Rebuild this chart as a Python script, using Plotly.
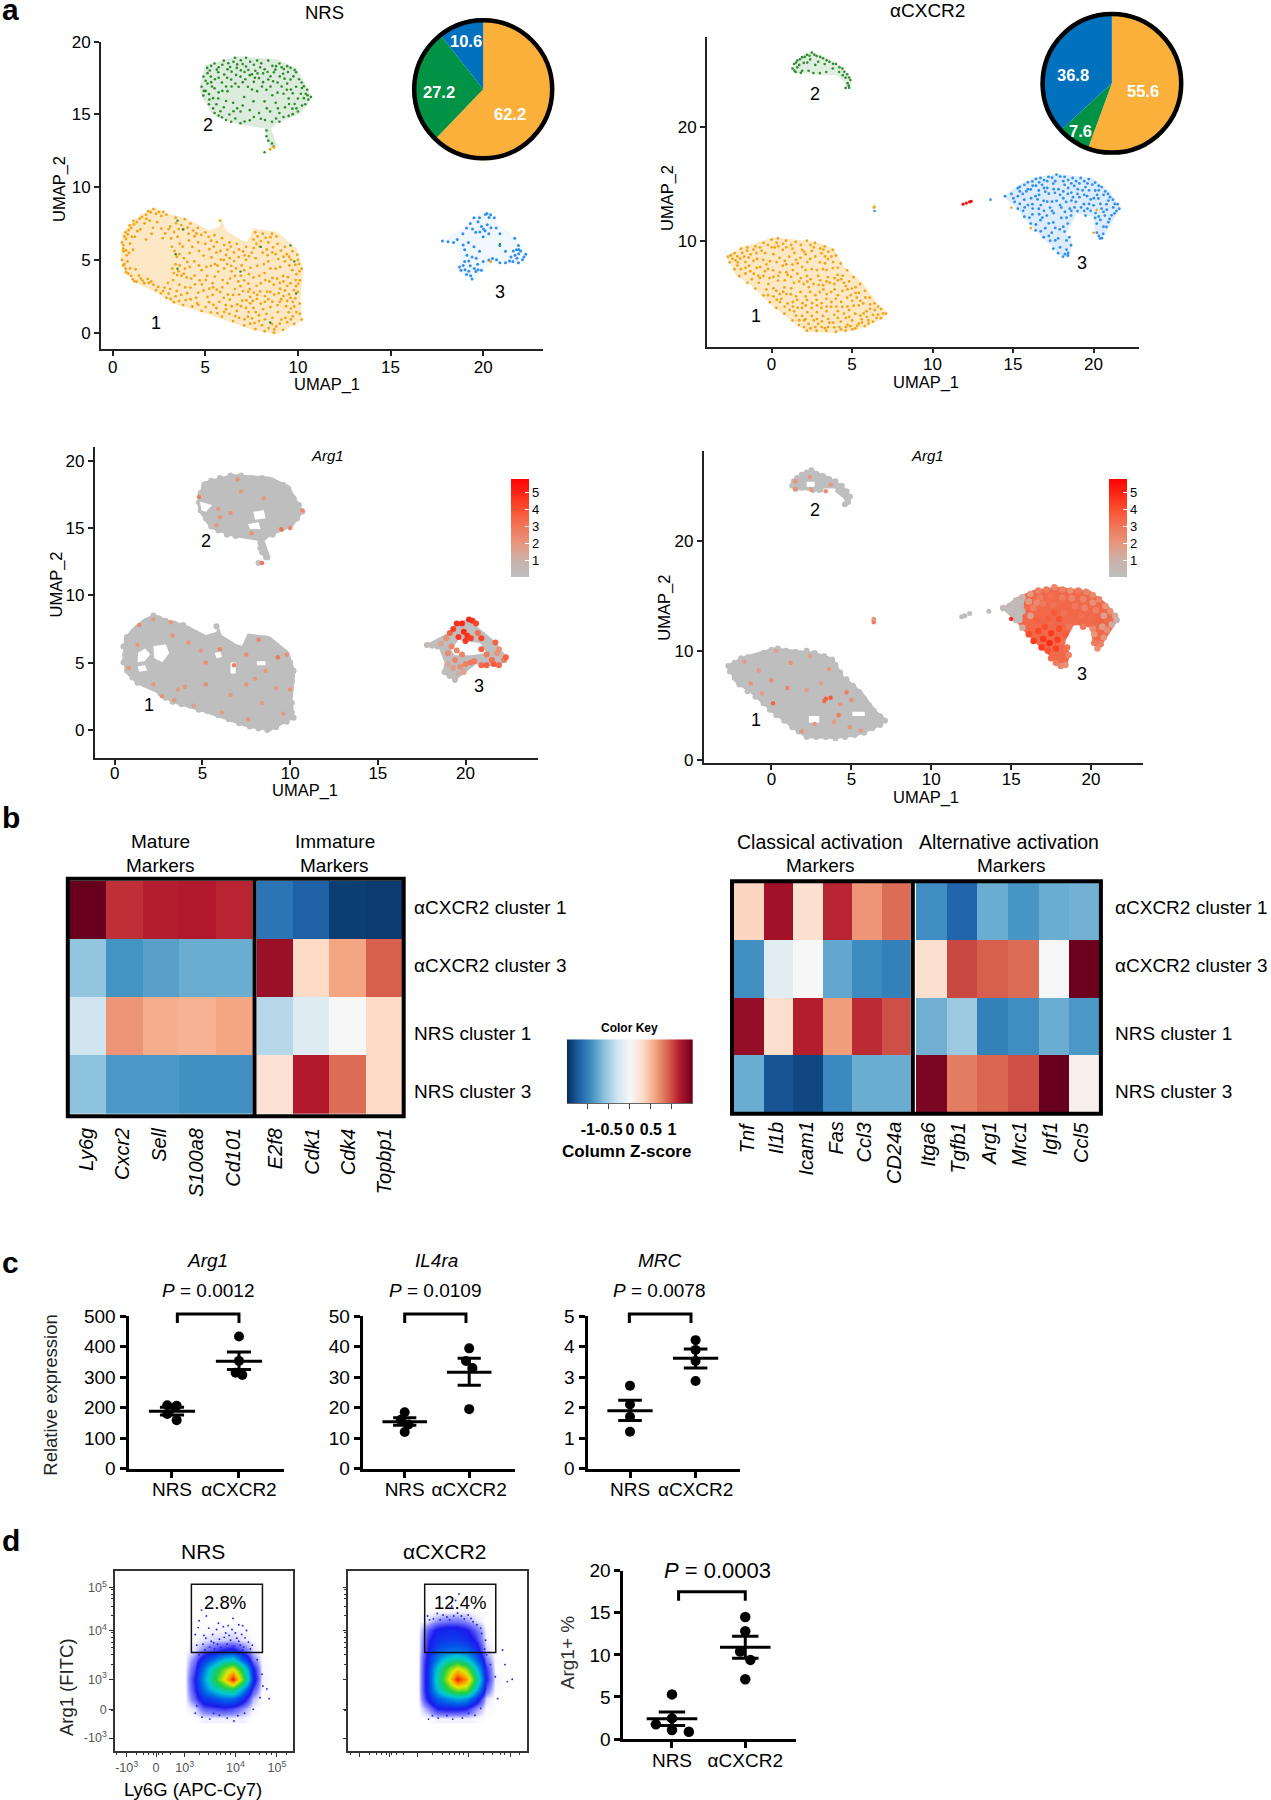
import plotly.graph_objects as go

W, H = 1271, 1800
FONT = "Liberation Sans"

# ---------- panel a: pies ----------
pie_nrs = [62.2, 27.2, 10.6]
pie_cxcr2 = [55.6, 7.6, 36.8]
pie_colors = ["#FBB03B", "#009245", "#0071BC"]

# ---------- panel a: NRS UMAP outlines (data units) ----------
nrs1_outline = [(0.43,5.2),(0.53,6.8),(0.96,7.5),(1.6,8.2),(2.24,8.6),(3,8.2),(3.95,7.86),(5.2,7.05),(5.8,7.3),(5.87,7.86),(6.1,7.05),(6.94,6.37),(7.26,6.25),(7.58,7.17),(8.86,6.94),(9.93,5.8),(10.3,4.3),(10.14,2.25),(10.25,0.87),(8.86,-0.1),(7.58,0.18),(6.3,0.76),(5.0,1.33),(3.3,2.0),(2.45,2.7),(1.28,3.4),(0.64,4.2)]
nrs2_outline = [(4.7,16.8),(5.0,18.4),(6.72,19.0),(8.86,18.8),(9.93,18.17),(10.78,16.2),(10.14,15.07),(8.86,14.39),(8.55,14.04),(8.85,12.9),(8.5,12.6),(8.2,14.04),(6.72,14.34),(5.44,14.96),(4.8,16.2)]
nrs3_outline = [(17.7,6.32),(19.1,7.28),(19.5,7.97),(20.28,8.32),(20.7,7.63),(21.66,6.6),(22.4,5.34),(21.9,4.65),(20.6,4.88),(19.42,3.67),(18.68,4.19),(18.8,5),(18.46,6.14)]

nrs1_pts = [(1.8,8.1),(2.2,8.5),(2.5,8.3),(2.9,8.1),(3.4,7.9),(3.9,7.8),(2.0,7.7),(1.3,7.6),(1.0,7.2),(0.7,6.9),(1.5,7.1),(2.4,7.6),(3.1,7.3),(3.7,7.4),(4.2,7.5),(4.6,7.2),(5.0,6.9),(4.1,6.8),(3.5,6.6),(5.5,6.7),(5.8,7.7),(5.9,6.5),(6.3,6.2),(6.7,6.1),(7.2,5.9),(7.7,6.9),(8.1,6.8),(8.6,6.8),(7.6,6.4),(8.0,6.3),(8.4,6.2),(8.9,6.1),(9.3,5.9),(9.7,5.6),(10.0,5.0),(10.2,4.4),(10.1,3.6),(10.0,2.8),(10.1,2.0),(10.1,1.3),(10.2,0.9),(9.8,0.6),(9.2,0.2),(8.7,0.0),(8.2,0.1),(7.7,0.25),(7.1,0.5),(6.5,0.8),(5.9,1.1),(5.3,1.4),(4.8,1.5),(4.3,1.8),(3.8,1.9),(3.3,2.1),(2.9,2.4),(2.6,2.7),(1.3,3.5),(1.7,3.4),(2.2,3.3),(1.0,3.9),(0.7,4.4),(0.5,5.0),(0.6,5.6),(0.5,6.2),(0.8,4.9),(1.1,5.7),(1.2,6.6),(1.8,6.4),(2.1,6.8),(2.7,6.5),(3.2,5.9),(3.6,5.4),(3.4,4.7),(3.3,4.1),(3.9,4.4),(4.0,3.8),(3.6,3.3),(3.1,3.0),(3.7,2.6),(4.2,3.1),(4.5,2.4),(4.9,2.9),(5.2,2.1),(4.7,3.6),(5.1,3.9),(5.4,3.4),(5.8,2.8),(6.1,1.9),(5.7,4.2),(4.4,4.9),(4.9,5.3),(4.3,5.9),(5.0,6.1),(5.6,5.5),(6.0,5.0),(6.4,4.6),(6.8,5.2),(7.2,5.0),(6.6,3.9),(6.2,3.4),(6.9,3.2),(6.5,2.6),(7.0,2.2),(6.7,1.5),(7.3,1.1),(7.6,1.7),(7.9,0.8),(8.3,1.3),(8.6,0.6),(9.1,0.9),(9.5,1.4),(8.9,1.9),(8.4,2.3),(7.8,2.6),(7.4,3.0),(8.0,3.4),(7.6,3.8),(8.2,4.1),(7.8,4.6),(8.4,4.9),(8.8,4.4),(9.2,3.9),(8.7,3.3),(9.3,2.9),(9.6,2.4),(9.1,2.3),(9.6,3.4),(9.7,4.3),(9.3,4.9),(8.8,5.4),(8.1,5.5),(7.5,5.5),(9.4,5.4),(6.2,5.7),(5.3,4.6),(4.8,4.3),(4.2,2.3),(3.4,2.5),(2.8,3.1),(1.9,3.7),(5.6,1.7),(6.3,1.3),(7.2,1.7),(7.9,1.2),(8.0,2.0),(6.0,2.4),(5.4,2.6),(6.6,3.0),(7.1,3.6),(7.1,4.3),(8.5,2.8),(9.9,3.2),(9.8,1.8)]
nrs1_extra = [(2.05,8.28),(2.62,8.02),(1.46,7.83),(1.15,7.44),(0.86,7.05),(1.72,7.52),(2.18,7.21),(1.33,6.98),(0.72,6.44),(0.94,6.12),(0.58,5.78),(0.76,5.32),(0.64,4.72),(1.24,4.36),(1.08,3.66),(1.52,3.73),(1.95,3.42),(3.56,7.12),(3.32,6.92),(4.42,6.63),(4.78,6.72),(5.18,6.58),(4.61,6.21),(4.12,6.34),(3.78,5.92),(4.15,5.47),(4.66,5.62),(5.22,5.74),(5.34,5.18),(5.84,5.02),(6.12,5.34),(6.55,5.52),(7.04,5.58),(7.36,5.26),(7.94,5.92),(8.32,5.72),(8.66,5.86),(9.08,5.64),(9.52,5.22),(9.86,4.66),(9.54,4.62),(9.04,4.52),(8.52,4.42),(8.16,4.72),(7.44,4.46),(6.96,4.62),(6.42,4.22),(6.02,4.42),(5.52,3.86),(5.94,3.62),(6.34,3.72),(6.78,3.52),(7.32,3.38),(7.76,3.22),(8.24,3.62),(8.62,3.76),(9.02,3.42),(9.42,3.22),(9.78,2.92),(9.52,2.64),(8.96,2.72),(8.34,2.82),(7.96,2.84),(7.42,2.46),(6.82,2.62),(6.32,2.28),(5.76,2.12),(5.12,2.46),(4.62,2.76),(4.02,2.72),(3.46,2.86),(3.02,2.68),(3.92,3.12),(4.44,3.32),(4.82,3.32),(5.22,3.02),(5.62,2.96),(4.24,3.72),(3.72,3.92),(3.62,4.62),(4.16,4.52),(4.66,4.62),(5.06,4.52),(5.52,4.72),(6.72,1.94),(7.22,2.22),(7.56,2.18),(8.12,1.62),(8.52,1.76),(8.92,1.42),(9.36,1.82),(9.72,1.12),(9.42,0.72),(8.82,0.42),(8.42,0.32),(7.66,0.66),(7.12,0.92),(6.62,1.14),(6.12,1.62),(5.66,1.34),(5.02,1.76),(4.56,2.04),(3.94,2.24),(8.36,5.32),(8.94,5.06),(7.72,5.12),(6.66,4.42),(7.52,0.98),(9.04,3.02),(9.92,4.02),(9.86,2.36),(9.62,1.66)]
nrs1_extra2 = [(1.92,8.36),(2.34,8.18),(2.74,8.31),(1.58,7.96),(1.12,7.68),(1.82,7.82),(0.92,7.38),(0.64,6.62),(0.82,6.76),(1.04,6.58),(0.58,6.02),(0.72,5.66),(0.88,5.48),(0.56,4.62),(0.72,4.16),(0.94,4.42),(1.42,3.92),(0.84,4.06),(1.18,3.52),(1.62,3.58),(2.08,3.52),(2.46,3.14),(2.34,2.92),(2.72,2.86),(3.14,2.32),(3.58,2.18),(2.98,3.42),(3.26,3.62),(3.48,3.96),(3.84,4.06),(3.22,4.42),(3.56,4.22),(4.02,4.86),(3.84,5.12),(3.46,5.22),(3.34,5.62),(3.62,6.12),(3.16,6.48),(2.84,6.82),(3.02,7.12),(2.62,7.16),(3.42,7.52),(3.82,7.12),(4.04,7.22),(4.34,7.02),(4.52,6.82),(5.32,6.32),(5.62,6.22),(6.02,6.02),(5.46,5.92),(5.82,5.62),(6.38,5.92),(6.82,5.72),(7.12,5.32),(6.32,5.12),(5.66,4.62),(6.18,4.72),(6.56,4.92),(7.62,5.82),(7.82,6.62),(8.26,6.52),(8.52,6.56),(8.84,6.62),(7.76,6.12),(8.62,5.52),(9.22,5.22),(9.62,5.02),(9.96,5.36),(10.06,4.72),(10.08,4.22),(9.88,3.62),(10.02,3.36),(9.46,3.82),(9.22,3.52),(8.88,3.72),(8.46,3.52),(7.92,3.92),(7.36,4.02),(6.92,3.92),(7.32,2.82),(7.04,2.86),(7.62,2.76),(8.22,2.52),(8.72,2.62),(9.22,2.52),(9.42,2.18),(9.02,2.12),(8.62,2.12),(8.22,2.12),(7.78,2.32),(7.42,2.02),(6.92,1.82),(6.42,1.82),(6.22,2.62),(5.92,3.12),(5.42,3.12),(5.02,3.62),(4.42,3.92),(4.62,1.92),(5.44,1.92),(6.02,1.42),(6.82,1.02),(7.34,1.42),(7.72,1.42),(8.22,0.92),(8.62,1.02),(9.02,0.62),(9.32,1.02),(9.62,0.92),(9.92,1.42),(9.72,2.12),(8.72,0.22),(8.06,0.52),(7.42,0.62)]
nrs2_pts = [(5.1,18.2),(5.5,18.5),(6.0,18.7),(6.6,18.9),(7.2,18.9),(7.8,18.7),(8.4,18.7),(9.0,18.5),(9.6,18.2),(9.9,17.9),(10.2,17.2),(10.5,16.7),(10.7,16.2),(10.4,15.7),(10.0,15.2),(9.5,14.9),(9.0,14.5),(8.6,14.5),(8.0,14.7),(7.4,14.6),(6.9,14.4),(6.4,14.5),(5.9,14.8),(5.5,15.1),(5.2,15.7),(4.9,16.3),(4.8,16.9),(4.9,17.6),(5.3,17.6),(5.7,17.9),(6.2,18.1),(6.7,18.2),(7.2,18.3),(7.7,18.0),(8.2,18.1),(8.7,17.9),(9.2,17.8),(9.6,17.4),(9.9,16.9),(9.4,16.7),(8.9,17.2),(8.4,17.4),(7.9,17.5),(7.4,17.7),(6.9,17.6),(6.4,17.4),(5.9,17.2),(5.5,16.8),(5.2,16.4),(5.7,16.1),(6.2,16.6),(6.8,16.9),(7.3,16.9),(7.8,16.6),(8.3,16.7),(8.9,16.5),(9.5,16.1),(10.0,16.1),(9.3,15.5),(8.8,15.8),(8.2,15.9),(7.6,15.9),(7.1,16.2),(6.5,15.8),(6.0,15.5),(5.6,15.7),(6.3,15.0),(6.9,15.2),(7.4,15.3),(7.9,15.1),(8.5,15.2),(9.0,15.1),(9.7,15.4),(8.3,13.9),(8.3,13.5),(8.4,13.2),(8.6,13.0),(8.7,12.8),(8.2,12.4)]
nrs2_extra = [(5.32,18.34),(5.72,18.24),(6.24,18.52),(6.52,18.62),(6.92,18.72),(7.42,18.62),(7.62,18.42),(8.02,18.52),(8.62,18.34),(9.24,18.12),(9.82,18.06),(5.12,17.84),(5.52,17.42),(6.02,17.74),(6.42,17.94),(6.92,18.04),(7.16,17.42),(7.62,17.24),(8.12,17.82),(8.52,17.62),(9.02,17.62),(9.42,17.12),(9.76,17.62),(10.06,17.42),(10.32,16.94),(10.16,16.42),(10.56,16.02),(10.22,15.62),(9.82,15.72),(9.72,16.46),(9.12,16.92),(8.62,16.32),(8.06,16.92),(6.62,17.12),(6.12,16.92),(5.36,16.92),(5.12,17.12),(4.92,16.62),(5.42,16.12),(5.92,16.62),(6.72,15.42),(6.12,15.92),(5.42,15.42),(5.72,14.92),(6.12,14.62),(6.62,14.72),(7.12,14.52),(7.62,14.82),(8.22,14.62),(8.82,14.72),(9.22,14.82),(9.72,15.02),(8.32,15.42),(7.02,15.62),(5.02,17.32),(7.82,17.82),(8.82,18.32),(9.42,18.32)]
nrs2_extra2 = [(5.24,18.02),(5.62,18.08),(5.92,18.42),(6.34,18.26),(6.72,18.44),(7.02,18.46),(7.32,18.06),(7.52,17.76),(7.96,18.24),(8.36,17.92),(8.78,18.08),(9.12,18.24),(9.46,17.92),(9.28,17.46),(8.66,17.28),(8.12,17.22),(7.68,17.52),(7.12,17.92),(6.66,17.72),(6.18,17.52),(5.72,17.52),(5.32,17.22),(5.72,16.52),(6.42,16.92),(7.02,17.22),(7.52,16.72),(8.52,16.92),(9.22,16.42),(9.62,16.72),(10.22,16.82),(10.42,16.42),(10.52,16.32),(10.32,16.12),(9.92,15.42),(9.52,15.72),(8.92,15.42),(6.52,15.22),(5.82,15.22),(5.22,16.02),(5.02,16.62)]
nrs3_pts = [(17.8,6.3),(18.1,6.25),(18.4,6.2),(18.6,6.4),(18.9,6.8),(19.1,7.2),(19.3,7.5),(19.5,7.9),(19.8,7.9),(20.2,8.2),(20.4,8.1),(20.6,7.9),(19.9,7.3),(20.1,7.0),(20.3,6.8),(19.6,6.9),(20.0,6.6),(20.7,7.2),(20.9,6.8),(19.2,6.2),(19.0,5.7),(19.4,5.2),(19.8,5.6),(20.3,5.0),(20.5,5.1),(20.9,4.8),(21.2,4.8),(21.6,4.9),(21.9,4.8),(22.2,5.2),(22.3,5.4),(21.8,5.7),(21.9,6.0),(21.7,6.5),(21.5,5.2),(21.2,5.6),(19.0,4.9),(18.8,4.3),(19.1,4.0),(19.4,3.7),(19.6,4.2),(19.9,4.3),(19.3,4.6),(19.7,4.7),(20.0,4.9),(20.9,6.0),(19.5,5.9)]
nrs3_extra = [(20.12,8.12),(20.32,7.92),(19.72,7.62),(20.22,7.42),(20.02,7.12),(19.82,6.92),(20.42,7.22),(19.42,7.12),(18.92,4.62),(19.02,4.32),(19.22,4.22),(19.32,3.92),(19.52,4.42),(18.72,4.52),(19.22,4.92),(19.72,4.32),(21.72,5.32),(21.92,5.42),(22.12,5.02),(21.82,5.12),(21.62,5.62),(21.92,5.72),(21.42,4.92),(22.02,5.62),(20.72,5.02),(19.12,5.32),(18.92,6.02),(19.62,5.12)]

# ---------- panel a: aCXCR2 UMAP ----------
cx1_outline = [(-2.84,8.65),(-1.8,9.47),(0.13,10.29),(2.7,9.9),(3.87,9.33),(4.5,7.72),(5.67,6.26),(6.57,4.5),(7.27,3.63),(6.57,2.9),(5.28,2.16),(4,1.93),(2.19,2.0),(1.16,3.04),(0,4.36),(-1.42,6.26),(-2.19,6.9)]
cx2_outline = [(1.29,25.12),(1.55,25.85),(2.45,26.58),(3.48,26),(4.5,25.12),(5.03,23.95),(4.72,23.27),(4.5,23.95),(4,24.53),(2.96,24.53),(2.19,24.68),(1.55,24.68)]
cx3_outline = [(14.43,13.86),(15.33,14.88),(16.37,15.56),(17.9,15.85),(19.97,15.47),(21,14.3),(21.7,12.84),(20.88,10.94),(20.5,10.12),(20.1,10.8),(19.97,12.1),(18.94,12.4),(18.3,10.64),(18.69,9.77),(18.48,8.45),(17.9,8.74),(17.5,9.4),(16.88,10.2),(15.98,11.5),(15.2,12.84)]
cx3_grey_tip = [(14.43,13.86),(15.33,14.88),(15.92,15.0),(15.72,13.9),(15.7,12.6),(15.42,12.5),(15.2,12.84)]

cx1_pts = [(-2.7,8.6),(-2.3,8.9),(-1.9,9.3),(-1.5,9.4),(-1.0,9.5),(-0.5,9.8),(0.0,10.1),(0.4,10.2),(0.9,10.0),(1.5,9.9),(2.2,10.0),(2.7,9.8),(3.3,9.5),(3.8,9.2),(4.0,8.7),(4.3,8.0),(4.7,7.4),(5.1,6.8),(5.5,6.2),(5.8,5.6),(6.1,5.0),(6.4,4.5),(6.8,4.0),(7.1,3.6),(6.8,3.2),(6.3,2.9),(5.8,2.5),(5.2,2.3),(4.6,2.1),(4.0,2.0),(3.4,2.1),(2.8,2.1),(2.2,2.1),(1.7,2.6),(1.3,3.0),(0.8,3.6),(0.3,4.1),(-0.1,4.6),(-0.5,5.2),(-1.0,5.8),(-1.5,6.3),(-2.0,6.9),(-2.3,7.5),(-2.6,8.1),(-2.1,8.1),(-1.7,8.6),(-1.3,8.8),(-1.9,7.5),(-1.4,7.8),(-0.9,8.4),(-0.4,8.9),(0.2,9.4),(0.7,9.2),(1.3,9.3),(1.9,9.2),(2.5,9.1),(3.1,8.9),(3.5,8.4),(3.0,8.1),(2.4,8.4),(1.8,8.5),(1.1,8.6),(0.5,8.5),(-0.1,8.2),(-0.7,7.7),(-1.1,7.1),(-0.5,6.9),(-0.8,6.3),(-0.2,6.2),(0.1,7.4),(0.7,7.8),(1.3,7.9),(1.9,7.7),(2.5,7.5),(3.2,7.5),(3.8,7.6),(4.1,7.0),(3.5,6.8),(2.9,6.9),(2.2,6.9),(1.6,7.1),(1.0,7.0),(0.4,6.5),(0.3,5.6),(0.8,5.9),(1.4,6.3),(2.0,6.2),(2.6,6.2),(3.2,6.1),(3.9,6.2),(4.5,6.3),(5.0,5.8),(4.4,5.6),(3.7,5.5),(3.0,5.5),(2.4,5.5),(1.8,5.5),(1.2,5.3),(0.6,4.9),(1.0,4.5),(1.6,4.8),(2.2,4.8),(2.8,4.8),(3.4,4.9),(4.0,4.9),(4.7,5.0),(5.3,5.0),(5.7,4.5),(5.1,4.3),(4.4,4.2),(3.7,4.2),(3.1,4.1),(2.5,4.1),(1.9,4.1),(1.4,3.8),(1.9,3.4),(2.5,3.4),(3.2,3.4),(3.9,3.5),(4.5,3.6),(5.2,3.6),(5.9,3.8),(6.3,3.5),(5.6,3.1),(5.0,3.0),(4.3,2.9),(3.6,2.8),(2.9,2.7),(2.3,2.7),(4.9,2.5),(3.9,2.4)]
cx1_extra = [(-2.42,8.42),(-2.12,8.62),(-1.82,8.92),(-1.52,9.12),(-1.12,9.22),(-0.72,9.42),(-0.22,9.62),(0.32,9.82),(0.72,9.72),(1.22,9.62),(1.82,9.62),(2.42,9.62),(3.02,9.32),(3.52,9.02),(3.72,8.62),(3.82,8.12),(4.12,7.62),(4.42,6.92),(4.82,6.42),(5.22,5.92),(5.42,5.42),(5.82,5.02),(6.12,4.42),(6.42,3.92),(6.62,3.52),(5.92,3.32),(5.42,2.72),(4.72,2.62),(4.22,2.42),(3.52,2.42),(2.72,2.42),(2.02,3.02),(1.52,3.42),(1.12,3.92),(0.52,4.62),(0.12,5.12),(-0.32,5.72),(-0.72,6.72),(-1.22,6.62),(-1.62,7.12),(-2.12,7.82),(-1.62,8.12),(-1.12,8.22),(-0.52,8.32),(0.12,8.82),(0.82,8.22),(1.52,8.32),(2.12,8.82),(2.72,8.62),(3.32,8.02),(3.42,7.42),(2.82,7.42),(2.12,7.42),(1.32,7.42),(0.52,7.22),(-0.22,7.52),(-0.42,7.32),(0.12,6.82),(0.82,6.52),(1.22,6.82),(1.82,6.72),(2.42,6.62),(3.02,6.52),(3.62,6.32),(4.12,6.52),(4.72,5.72),(4.12,5.22),(3.42,5.32),(2.72,5.22),(2.12,5.12),(1.52,5.12),(0.92,5.32),(0.52,5.32),(1.32,4.62),(1.92,4.52),(2.52,4.52),(3.12,4.52),(3.72,4.62),(4.32,4.62),(5.02,4.72),(5.42,4.32),(4.82,3.92),(4.12,3.82),(3.42,3.82),(2.82,3.72),(2.22,3.72),(1.62,4.12),(2.12,3.12),(2.82,3.12),(3.52,3.12),(4.12,3.22),(4.82,3.32),(5.52,3.42),(6.02,3.02),(5.32,2.52),(4.62,2.42),(3.12,2.42),(2.42,2.32)]
cx1_extra2 = [(-2.52,8.72),(-2.24,8.28),(-1.94,8.42),(-1.42,8.52),(-0.94,8.92),(-0.62,9.12),(0.02,9.42),(0.42,9.52),(0.92,9.42),(1.42,8.92),(2.02,9.02),(2.62,9.42),(3.22,9.22),(3.32,8.62),(2.22,8.12),(1.62,8.02),(0.92,7.92),(0.32,8.12),(-0.32,7.92),(-0.92,7.62),(-1.62,7.62),(-1.32,7.32),(-0.82,6.92),(-0.12,6.72),(0.42,6.92),(0.92,7.22),(1.72,6.42),(2.22,6.42),(2.92,6.12),(3.42,6.42),(3.92,6.72),(4.32,6.62),(4.62,6.02),(5.22,5.42),(4.92,5.22),(3.92,5.72),(3.22,5.72),(2.32,5.92),(1.22,5.82),(0.72,5.52),(0.12,5.82),(-0.22,5.22),(0.32,4.82),(0.82,4.22),(1.32,4.22),(2.12,4.32),(2.82,4.32),(3.42,4.22),(4.02,4.22),(4.72,4.22),(5.52,4.72),(6.12,4.02),(6.62,4.22),(6.92,3.62),(6.52,3.22),(5.72,3.62),(4.62,3.22),(3.82,2.82),(3.12,2.92),(2.62,3.02),(1.72,3.02),(2.02,2.42),(3.32,2.32),(4.32,2.22),(5.02,2.22),(5.62,2.82),(6.02,2.72)]
cx2_pts = [(1.3,25.1),(1.4,25.5),(1.6,25.8),(1.9,26.1),(2.2,26.3),(2.5,26.5),(2.8,26.2),(3.2,26.0),(3.6,25.7),(4.0,25.5),(4.4,25.1),(4.7,24.6),(4.9,24.1),(4.8,23.6),(4.6,23.4),(4.6,24.3),(4.2,24.8),(3.8,25.1),(3.3,25.5),(2.9,25.7),(2.4,25.9),(2.0,25.6),(1.6,25.2),(1.5,24.8),(1.9,24.9),(2.3,24.9),(2.6,24.7),(3.0,24.7),(3.4,24.8)]
cx2_extra = [(1.52,25.62),(1.76,25.92),(2.06,26.12),(2.36,26.22),(2.66,26.32),(3.02,26.12),(3.42,25.82),(3.82,25.52),(4.22,25.22),(4.52,24.82),(4.82,24.32),(4.72,23.82),(4.82,23.42),(1.72,25.42),(2.22,25.62),(2.72,25.42),(1.42,24.92),(1.82,24.72),(4.42,24.52)]
cx3_pts = [(14.5,13.9),(14.9,14.1),(15.3,14.6),(15.7,14.9),(16.2,15.2),(16.7,15.5),(17.2,15.6),(17.7,15.8),(18.2,15.6),(18.7,15.5),(19.2,15.5),(19.7,15.4),(20.1,15.1),(20.5,14.7),(20.9,14.1),(21.2,13.6),(21.5,13.2),(21.6,12.8),(21.3,12.4),(21.0,11.9),(20.8,11.2),(20.6,10.6),(20.4,10.2),(20.2,10.7),(20.2,11.5),(20.1,12.0),(19.5,12.2),(19.0,12.6),(18.6,12.2),(18.4,11.5),(18.2,10.8),(18.5,10.3),(18.6,9.6),(18.4,8.7),(18.1,8.6),(17.8,8.9),(17.5,9.3),(17.3,10.0),(16.9,10.3),(16.4,10.9),(16.1,11.5),(15.7,12.1),(15.3,12.8),(15.1,13.4),(15.7,13.6),(15.6,14.1),(16.1,14.5),(16.4,13.9),(16.2,13.2),(16.6,12.8),(16.2,12.3),(16.7,11.8),(17.0,11.1),(17.4,10.7),(17.8,10.2),(17.9,11.0),(17.5,11.6),(17.1,12.2),(17.3,12.9),(16.9,13.5),(17.0,14.3),(16.8,14.9),(17.5,15.0),(17.6,14.2),(17.7,13.5),(18.0,12.9),(18.0,12.0),(18.3,13.4),(18.4,14.1),(18.2,14.9),(18.8,14.8),(19.0,14.1),(18.9,13.4),(19.4,13.2),(19.6,13.9),(19.5,14.7),(20.1,14.4),(20.3,13.7),(20.0,13.1),(20.5,12.8),(20.8,13.2),(20.7,12.2),(15.3,13.9),(16.6,14.4)]
cx3_extra = [(15.92,15.12),(16.42,15.42),(16.92,15.32),(17.42,15.52),(17.92,15.62),(18.42,15.32),(18.92,15.22),(19.42,15.22),(19.92,14.92),(20.32,14.42),(20.72,14.32),(21.02,13.82),(21.32,13.22),(21.42,12.62),(21.12,12.22),(20.92,11.62),(20.62,11.22),(20.32,10.42),(20.52,10.22),(20.42,11.82),(19.82,12.62),(19.22,12.92),(18.52,12.82),(18.32,12.02),(18.12,11.22),(18.32,10.02),(18.32,9.22),(18.22,8.82),(18.42,8.92),(17.92,9.42),(17.62,10.02),(17.22,10.42),(16.72,10.82),(16.42,11.42),(16.02,12.02),(15.62,12.62),(15.42,13.22),(15.02,13.72),(15.42,14.32),(15.92,14.52),(16.42,14.82),(16.92,14.62),(17.22,14.12),(17.12,13.42),(16.72,13.12),(16.52,13.62),(16.92,12.62),(17.52,12.42),(17.42,13.42),(17.82,14.52),(18.12,14.32),(18.62,14.22),(18.62,13.52),(19.12,13.82),(19.32,14.42),(19.72,14.42),(20.02,13.72),(19.72,13.22),(20.42,13.22),(20.82,12.72),(19.42,12.62),(18.22,12.52),(17.62,11.12),(17.22,11.52),(16.82,12.02)]
cx3_extra2 = [(15.42,14.72),(15.82,14.32),(16.22,14.82),(16.62,15.12),(17.12,15.22),(17.62,15.22),(18.12,15.22),(18.62,15.02),(19.12,15.02),(19.62,15.02),(20.32,14.82),(20.62,14.02),(20.92,13.52),(21.22,12.92),(20.62,12.52),(20.12,12.42),(20.32,12.12),(19.62,12.82),(18.82,12.92),(18.62,12.62),(18.72,13.82),(18.12,13.72),(17.92,13.12),(17.42,12.62),(16.62,12.32),(16.22,12.82),(15.92,13.12),(15.72,12.92),(16.12,13.72),(16.62,14.02),(17.12,14.62),(17.52,14.52),(17.92,14.02),(18.42,14.62),(19.02,14.52),(19.42,14.02),(19.82,13.62),(20.22,14.02)]

# Expression levels for the same cluster-3 cells, same order as the point lists
cx3_expr = [0.3,0.3,0.5,0.8,1.9,2.6,2.8,2.6,2.7,2.2,2.9,2.6,2.4,2.5,2.0,2.2,1.5,0.8,1.2,2.3,2.0,2.6,2.2,2.8,2.0,2.4,2.9,3.3,3.0,3.7,3.2,3.1,2.6,2.2,2.4,3.0,3.4,3.9,4.5,4.4,4.1,1.2,0.4,0.4,0.5,0.4,1.8,2.7,1.6,3.6,3.4,4.2,4.6,4.8,4.3,4.4,4.5,4.0,3.6,3.4,3.0,2.8,3.2,3.1,3.7,3.9,4.1,3.1,3.4,2.8,2.5,3.0,3.4,3.2,2.6,2.5,2.2,2.7,3.3,3.5,1.6,1.8,0.4,2.4]
nrs3_expr = [0.2,0.2,0.3,1.5,2.2,3.5,4.4,4.7,4.8,4.9,4.6,4.2,4.8,4.7,4.5,4.6,4.6,3.2,4.3,2.6,2.4,2.4,2.6,3.0,3.0,3.4,3.5,3.7,3.4,2.8,3.6,2.0,2.2,3.5,3.2,2.9,1.2,0.3,0.2,0.3,0.9,1.5,1.7,2.2,2.7,3.6,2.5]

# Sparse highly-expressing cells in the otherwise grey clusters (x, y, level)
nrs_hi = [(1.4,7.8,2.4),(2.2,8.2,1.6),(3.2,8.0,2.0),(1.3,6.3,1.8),(0.8,4.6,2.0),(3.3,7.0,2.2),(4.2,6.5,2.0),(4.9,5.9,1.8),(5.2,5.0,2.2),(6.0,6.0,2.6),(6.8,4.8,2.8),(7.5,5.6,2.2),(8.2,6.7,2.6),(9.3,5.4,3.0),(9.8,5.6,2.2),(8.6,4.4,2.0),(9.2,3.1,1.8),(7.5,3.4,2.0),(6.6,2.6,1.8),(5.2,3.4,2.2),(4.0,3.2,1.9),(3.6,3.0,1.8),(2.7,2.5,2.2),(3.4,2.2,2.0),(4.5,1.8,1.7),(7.6,0.8,2.0),(8.4,2.0,1.7),(9.6,1.2,1.8),(6.1,1.3,1.6),(8.0,3.8,1.8),(10.0,3.0,2.0),(2.2,3.4,1.9),
          (4.8,17.3,2.8),(7.0,18.6,2.2),(7.2,17.7,1.8),(6.0,15.8,2.0),(5.9,16.4,1.8),(6.6,16.1,2.0),(9.5,14.9,3.2),(10.0,15.0,2.6),(10.7,16.3,2.4),(5.8,15.2,1.8),(8.4,12.4,3.0),(7.8,14.6,2.2),(8.5,17.2,1.9)]
cx_hi = [(-1.7,9.0,1.8),(-0.8,8.2,1.9),(0.3,10.0,1.7),(1.2,8.9,2.2),(2.4,9.5,1.6),(0.0,7.3,2.3),(1.0,6.6,2.6),(2.2,6.4,1.7),(3.1,7.0,1.6),(3.4,5.6,3.6),(3.7,5.7,3.8),(3.3,5.4,3.4),(0.1,5.2,3.5),(4.7,6.2,2.8),(5.0,5.5,2.2),(4.3,5.1,2.0),(2.7,3.3,1.8),(4.2,4.1,3.0),(3.9,3.5,1.9),(1.9,2.6,2.0),(5.6,2.7,1.8),(4.9,3.0,2.1),(-0.6,6.1,1.8),(-1.3,7.0,2.0),(3.6,8.3,1.9),
         (1.5,25.5,2.1),(1.5,24.8,2.3),(2.4,25.9,1.8),(2.5,24.7,2.0),(3.7,25.2,1.8),(3.4,24.6,2.2),(6.4,12.6,2.8),(6.4,12.9,2.0),(15.0,12.9,4.8)]
cx_tail_grey = [(11.9,13.1),(12.1,13.2),(12.4,13.4),(13.6,13.6),(6.4,12.8)]

# white gaps inside the grey clouds
nrs_holes = [
    [(1.34,5.74),(1.72,6.04),(2.03,5.62),(1.72,5.12),(1.3,5.02)],
    [(2.2,6.24),(2.92,6.34),(3.1,5.72),(2.72,5.02),(2.26,5.32)],
    [(1.3,4.72),(1.72,4.82),(1.86,4.42),(1.4,4.32)],
    [(7.9,16.2),(8.5,16.32),(8.6,15.72),(8.0,15.6)],
    [(7.6,15.3),(8.2,15.42),(8.32,14.92),(7.72,14.9)],
    [(4.85,16.96),(5.55,16.7),(5.2,16.2),(4.95,16.3)],
    [(19.16,5.94),(19.6,6.68),(20.85,6.44),(21.2,5.72),(20.3,5.55),(19.4,5.55)],
    [(6.6,5.0),(6.9,5.0),(6.9,4.2),(6.6,4.2)],
    [(8.1,5.1),(8.6,5.1),(8.6,4.8),(8.1,4.8)],
    [(5.7,5.72),(6.02,5.82),(6.12,5.42),(5.8,5.32)],
]
cx_holes = [
    [(2.34,4.02),(2.99,4.02),(2.99,3.41),(2.34,3.41)],
    [(5.06,4.42),(5.84,4.42),(5.84,4.02),(5.06,4.02)],
    [(2.2,25.46),(2.7,25.46),(2.7,25.0),(2.2,25.0)],
    [(3.25,24.85),(4.0,24.85),(4,24.4),(3.25,24.4)],
]

stray_orange = [(6.35,12.9),(6.4,13.0),(14.9,12.9),(16.1,11.1),(20.0,10.7),(20.2,12.7)]
stray_blue = [(6.4,12.6),(13.6,13.6)]
stray_red = [(11.9,13.2),(12.1,13.3),(12.3,13.4),(12.4,13.45)]
stray_green_nrs = [(3.5,7.7),(3.8,7.1),(3.4,5.4),(3.5,4.4),(8.0,5.9),(9.6,6.0),(9.8,4.9),(9.9,2.7),(8.5,0.7),(6.9,4.2),(20.9,6.1)]
stray_orange_nrs = [(8.7,12.75),(8.5,12.6),(20.4,4.9)]

# ---------- panel b ----------
genes_left = ["Ly6g","Cxcr2","Sell","S100a8","Cd101"]
genes_imm = ["E2f8","Cdk1","Cdk4","Topbp1"]
genes_class = ["Tnf","Il1b","Icam1","Fas","Ccl3","CD24a"]
genes_alt = ["Itga6","Tgfb1","Arg1","Mrc1","Igf1","Ccl5"]
row_names = ["αCXCR2 cluster 1","αCXCR2 cluster 3","NRS cluster 1","NRS cluster 3"]
z_mature = [[1.5,1.1,1.18,1.2,1.15],[-0.6,-0.9,-0.82,-0.75,-0.75],[-0.3,0.67,0.55,0.52,0.6],[-0.62,-0.87,-0.87,-0.92,-0.92]]
z_imm = [[-1.1,-1.23,-1.43,-1.44],[1.3,0.3,0.6,0.9],[-0.43,-0.2,0.0,0.3],[0.22,1.2,0.85,0.3]]
z_class = [[0.33,1.27,0.24,1.15,0.67,0.84],[-0.92,-0.17,0.0,-0.78,-0.96,-1.03],[1.32,0.26,1.18,0.63,1.12,0.97],[-0.75,-1.3,-1.37,-0.97,-0.75,-0.75]]
z_alt = [[-0.93,-1.2,-0.75,-0.88,-0.75,-0.72],[0.25,1.0,0.9,0.85,-0.02,1.48],[-0.73,-0.55,-1.03,-0.93,-0.75,-0.87],[1.42,0.77,0.87,0.97,1.5,0.07]]
key_values = [-1.5,-1.2,-0.9,-0.6,-0.3,0,0.3,0.6,0.9,1.2,1.5]
RDBU = [[0,"#053061"],[0.1,"#2166AC"],[0.2,"#4393C3"],[0.3,"#92C5DE"],[0.4,"#D1E5F0"],[0.5,"#F7F7F7"],[0.6,"#FDDBC7"],[0.7,"#F4A582"],[0.8,"#D6604D"],[0.9,"#B2182B"],[1,"#67001F"]]

# ---------- panel c ----------
arg1_nrs = [(-0.07,208),(0.07,206),(-0.07,179),(0.07,159)]
arg1_cx = [(0,433),(0,353),(-0.05,314),(0.05,307)]
il4_nrs = [(0,18.5),(-0.06,16),(0.06,14.5),(0,12)]
il4_cx = [(0,39.4),(-0.05,35.3),(0.05,33),(0,19.5)]
mrc_nrs = [(0,2.72),(0,2.1),(0,1.7),(0,1.21)]
mrc_cx = [(0,4.21),(0,3.89),(0,3.53),(0,2.87)]
arg1_stats = [(188,201,176),(352,382,325)]
il4_stats = [(15.4,16.7,14.2),(31.6,36.2,27.3)]
mrc_stats = [(1.9,2.24,1.58),(3.62,3.92,3.3)]

# ---------- panel d ----------
d_nrs = [(0,5.3),(0,2.45),(-0.22,1.74),(0,1.07),(0.23,0.87)]
d_cx = [(0,14.5),(0,12.8),(-0.07,10.4),(0.07,9.4),(0,7.1)]
d_stats = [(2.4,3.2,1.6),(10.9,12.2,9.6)]

flow_x = [3.0,3.2,3.4,3.6,3.8,4.0,4.2,4.4,4.6,4.8]
flow_y = [2.2,2.4,2.6,2.8,3.0,3.2,3.4,3.6,3.8,4.0,4.2,4.4]
flow_z_nrs = [
 [0,0,.05,.05,.05,.05,.05,0,0,0],
 [0,.1,.5,.6,.7,.6,.3,.03,0,0],
 [0,.5,1.2,1.5,1.9,1.9,1.1,.2,0,0],
 [0,.7,1.9,3.0,4.0,4.4,2.4,.6,.03,0],
 [0,.8,2.4,4.4,6.8,9.8,5.4,1.1,.05,0],
 [0,.6,2.0,3.7,5.6,7.0,4.1,.9,.03,0],
 [0,.4,1.2,2.0,3.0,3.4,1.7,.4,.02,0],
 [0,.1,.35,.6,.8,.9,.5,.1,0,0],
 [0,.02,.08,.12,.14,.16,.08,.02,0,0],
 [0,0,.02,.03,.04,.05,.03,0,0,0],
 [0,0,0,0,0,0,0,0,0,0],
 [0,0,0,0,0,0,0,0,0,0]]
flow_z_cx = [
 [0,0,.05,.05,.05,.05,.03,0,0,0],
 [0,.3,.8,.9,.9,.8,.3,.02,0,0],
 [0,.9,1.7,2.2,2.7,2.4,1.2,.1,0,0],
 [0,1.1,2.9,4.6,6.0,5.8,2.9,.5,.02,0],
 [0,1.1,3.4,6.2,9.8,8.2,4.2,.8,.05,0],
 [0,1.1,3.1,5.3,7.2,6.0,3.0,.7,.02,0],
 [0,1.0,2.2,3.4,4.0,3.3,1.9,.4,.02,0],
 [0,.8,1.5,1.8,1.9,1.7,1.1,.12,0,0],
 [0,.7,1.1,1.25,1.25,1.1,.7,.04,0,0],
 [0,.5,.9,1.0,1.0,.85,.45,.02,0,0],
 [0,.1,.3,.4,.4,.3,.1,0,0,0],
 [0,0,0,.02,.03,.02,0,0,0,0]]
flow_sparse_nrs = [(3.3,4.2),(3.4,3.9),(3.5,4.05),(3.7,4.15),(3.85,3.95),(4.0,4.25),(4.05,3.95),(4.2,4.1),(4.25,3.85),(3.6,3.75),(3.25,3.7),(3.95,3.8),(4.4,3.7),(3.3,3.5),(4.5,3.4),(4.6,3.1),(4.7,2.8),(3.25,2.45),(3.6,2.3),(4.1,2.25),(3.9,4.1),(3.75,3.65),(3.45,4.3),(4.15,3.7),(4.75,2.6),
 (3.22,3.92),(3.28,4.06),(3.38,3.72),(3.44,3.84),(3.52,3.66),(3.58,3.92),(3.66,4.02),(3.72,3.82),(3.8,4.08),(3.88,3.72),(3.92,3.9),(3.98,4.02),(4.02,3.68),(4.08,3.84),(4.12,4.12),(4.18,3.92),(4.22,3.66),(4.28,4.0),(4.32,3.76),(4.12,3.78),(3.62,3.62),(3.42,3.6),(3.78,3.58),(3.98,3.62),(4.2,3.6),(3.35,4.42),(3.55,3.78),(3.68,3.72),(3.82,3.86),(4.36,3.62),
 (3.22,2.3),(3.36,2.22),(3.52,2.18),(3.72,2.26),(3.88,2.2),(4.02,2.14),(4.24,2.3),(4.42,2.38),(4.56,2.62),(4.62,2.86)]
flow_sparse_cx = [(3.2,4.3),(3.4,4.35),(3.6,4.28),(3.9,4.3),(4.1,4.25),(4.3,4.05),(4.4,3.8),(3.7,4.5),(3.85,4.75),(4.5,3.3),(4.75,3.6),(4.85,2.95),(4.95,3.0),(4.65,2.6),(3.3,2.25),(3.6,2.25),(4.05,2.3),(4.3,2.4),(4.6,3.05),(4.8,3.3),
 (3.24,4.22),(3.32,4.24),(3.46,4.22),(3.52,4.32),(3.66,4.22),(3.74,4.3),(3.82,4.36),(3.96,4.24),(4.04,4.32),(4.14,4.18),(4.22,4.12),(4.32,3.94),(3.78,4.62),(4.38,3.62),(4.42,3.5),(3.22,2.18),(3.42,2.2),(3.72,2.18),(3.92,2.2),(4.18,2.26)]
JET = [[0,"#ffffff"],[0.004,"#f4f4ff"],[0.03,"#8a8aff"],[0.08,"#1a1aee"],[0.17,"#0060e8"],[0.3,"#00c8d8"],[0.48,"#20d040"],[0.68,"#e8e800"],[0.82,"#ff9000"],[1,"#e81000"]]

def xs(p): return [a[0] for a in p]
def ys(p): return [a[1] for a in p]

traces, shapes, annos = [], [], []
layout = {}
nax = [0]

def new_axes(l, t, r, b, xr, yr, xopt=None, yopt=None):
    nax[0] += 1
    n = nax[0]
    s = "" if n == 1 else str(n)
    base = dict(showgrid=False, zeroline=False, ticks="outside", showline=True)
    x = dict(base, domain=[l/W, r/W], range=xr, anchor="y"+s)
    y = dict(base, domain=[1-b/H, 1-t/H], range=yr, anchor="x"+s)
    x.update(xopt or {}); y.update(yopt or {})
    layout["xaxis"+s] = x
    layout["yaxis"+s] = y
    return "x"+s, "y"+s

def T(x, y, text, size=18, color="black", bold=False, italic=False, angle=0, xanchor="center", yanchor="middle"):
    if italic: text = "<i>"+text+"</i>"
    if bold: text = "<b>"+text+"</b>"
    annos.append(dict(x=x/W, y=1-y/H, xref="paper", yref="paper", text=text, showarrow=False,
                      font=dict(family=FONT, size=size, color=color), textangle=angle,
                      xanchor=xanchor, yanchor=yanchor))

def DT(xa, ya, x, y, text, size=18):
    annos.append(dict(x=x, y=y, xref=xa, yref=ya, text=text, showarrow=False, font=dict(family=FONT, size=size, color="black")))

def poly(xa, ya, pts, color):
    traces.append(go.Scatter(x=xs(pts)+[pts[0][0]], y=ys(pts)+[pts[0][1]], xaxis=xa, yaxis=ya, mode="lines", fill="toself",
                             fillcolor=color, line=dict(width=0), hoverinfo="skip", showlegend=False))

def dots(xa, ya, pts, color, size=2.6):
    traces.append(go.Scatter(x=xs(pts), y=ys(pts), xaxis=xa, yaxis=ya, mode="markers",
                             marker=dict(color=color, size=size, line=dict(width=0)), showlegend=False, hoverinfo="skip"))

EXPR_SCALE = [[0,"#BEBEBE"],[0.17,"#C9B2AA"],[0.35,"#E8957B"],[0.52,"#F0765A"],[0.7,"#FB4D2C"],[1,"#FF0000"]]
def expr_dots(xa, ya, x, y, v, size=6, cbar=None):
    m = dict(color=v, cmin=0, cmax=5.8, colorscale=EXPR_SCALE, size=size, line=dict(width=0))
    if cbar:
        m["showscale"] = True
        m["colorbar"] = cbar
    traces.append(go.Scatter(x=x, y=y, xaxis=xa, yaxis=ya, mode="markers", marker=m, showlegend=False, hoverinfo="skip"))

UM = dict(linecolor="#222222", linewidth=1.5, tickcolor="#222222", tickwidth=1.5, ticklen=5,
          tickfont=dict(family=FONT, size=17, color="black"))

def cbar(x0, x1):
    return dict(x=x0/W, xanchor="left", y=1-479.3/H, yanchor="top", len=98, lenmode="pixels", thickness=x1-x0, thicknessmode="pixels",
                tickvals=[1,2,3,4,5], ticks="inside", ticklen=4, tickcolor="white", tickwidth=1, outlinewidth=0,
                tickfont=dict(family=FONT, size=13, color="black"), xpad=0, ypad=0, ticklabelposition="outside")

# --- A1
xa, ya = new_axes(100.8, 41.7, 542.5, 349.3, [-0.64, 23.2], [-1.14, 20],
                  dict(UM, tickvals=[0,5,10,15,20], ticklabelstandoff=-3), dict(UM, tickvals=[0,5,10,15,20]))
poly(xa, ya, nrs1_outline, "rgba(246,178,60,0.30)")
poly(xa, ya, nrs2_outline, "rgba(60,150,60,0.18)")
poly(xa, ya, nrs3_outline, "rgba(60,150,240,0.08)")
dots(xa, ya, nrs1_pts + nrs1_extra + nrs1_extra2, "#F2A516", 2.8)
dots(xa, ya, nrs2_pts + nrs2_extra + nrs2_extra2, "#2E8B2E", 2.6)
dots(xa, ya, nrs3_pts + nrs3_extra, "#2F8FEF", 3)
dots(xa, ya, stray_green_nrs, "#2E8B2E", 2.4)
dots(xa, ya, stray_orange_nrs, "#F2A516", 3)
DT(xa, ya, 2.35, 0.65, "1"); DT(xa, ya, 5.17, 14.27, "2"); DT(xa, ya, 20.88, 2.77, "3")

# --- A2
xa, ya = new_axes(706.8, 37.3, 1139.3, 346.7, [-4.02, 22.84], [0.7, 27.84],
                  dict(UM, tickvals=[0,5,10,15,20], ticklabelstandoff=-4), dict(UM, tickvals=[10,20]))
poly(xa, ya, cx1_outline, "rgba(246,178,60,0.30)")
poly(xa, ya, cx2_outline, "rgba(60,150,60,0.16)")
poly(xa, ya, cx3_outline, "rgba(60,150,240,0.18)")
dots(xa, ya, cx1_pts + cx1_extra + cx1_extra2, "#F2A516", 2.8)
dots(xa, ya, cx2_pts + cx2_extra, "#2E8B2E", 2.6)
dots(xa, ya, cx3_pts + cx3_extra + cx3_extra2, "#2F8FEF", 2.8)
dots(xa, ya, stray_orange, "#F2A516")
dots(xa, ya, stray_blue, "#2F8FEF")
dots(xa, ya, stray_red, "#EE1111", 3.2)
DT(xa, ya, -0.98, 3.39, "1"); DT(xa, ya, 2.71, 22.87, "2"); DT(xa, ya, 19.29, 8.02, "3")

# --- A3
xa, ya = new_axes(94.9, 446.7, 537.8, 757.7, [-1.13, 24.12], [-2.06, 21.03],
                  dict(UM, tickvals=[0,5,10,15,20], linewidth=2, ticklabelstandoff=-6), dict(UM, tickvals=[0,5,10,15,20], linewidth=2))
poly(xa, ya, nrs1_outline, "#BEBEBE")
poly(xa, ya, nrs2_outline, "#BEBEBE")
poly(xa, ya, nrs3_outline, "#BEBEBE")
dots(xa, ya, nrs1_pts + nrs2_pts, "#BEBEBE", 6)
for h in nrs_holes:
    poly(xa, ya, h, "#FFFFFF")
expr_dots(xa, ya, xs(nrs3_pts), ys(nrs3_pts), nrs3_expr, 6)
expr_dots(xa, ya, xs(nrs_hi), ys(nrs_hi), [p[2] for p in nrs_hi], 4.5, cbar(511, 529))
DT(xa, ya, 1.96, 1.86, "1"); DT(xa, ya, 5.18, 14.05, "2"); DT(xa, ya, 20.74, 3.29, "3")

# --- A4
xa, ya = new_axes(703.9, 450.7, 1143, 763.3, [-4.23, 23.25], [-0.3, 28.3],
                  dict(UM, tickvals=[0,5,10,15,20], linewidth=2, ticklabelstandoff=-6), dict(UM, tickvals=[0,10,20], linewidth=2))
poly(xa, ya, cx1_outline, "#BEBEBE")
poly(xa, ya, cx2_outline, "#BEBEBE")
poly(xa, ya, cx3_outline, "#F0694A")
poly(xa, ya, cx3_grey_tip, "#BEBEBE")
dots(xa, ya, cx1_pts + cx2_pts, "#BEBEBE", 6)
dots(xa, ya, cx_tail_grey, "#BEBEBE", 5)
for h in cx_holes:
    poly(xa, ya, h, "#FFFFFF")
expr_dots(xa, ya, xs(cx3_pts), ys(cx3_pts), cx3_expr, 6.5)
expr_dots(xa, ya, xs(cx_hi), ys(cx_hi), [p[2] for p in cx_hi], 4.5, cbar(1109, 1127.3))
DT(xa, ya, -0.99, 3.66, "1"); DT(xa, ya, 2.72, 22.9, "2"); DT(xa, ya, 19.43, 7.88, "3")

# pies
def pie(cx, cy, r, vals, labels):
    traces.append(go.Pie(values=vals, marker=dict(colors=pie_colors, line=dict(width=0)), sort=False, direction="clockwise",
                         rotation=0, textinfo="none", showlegend=False, hoverinfo="skip",
                         domain=dict(x=[(cx-r)/W, (cx+r)/W], y=[1-(cy+r)/H, 1-(cy-r)/H])))
    shapes.append(dict(type="circle", xref="paper", yref="paper", x0=(cx-r+2)/W, x1=(cx+r-2)/W, y0=1-(cy+r-2)/H, y1=1-(cy-r+2)/H,
                       line=dict(color="black", width=4.5), layer="above"))
    for (lx, ly, t) in labels:
        T(lx, ly, t, 16.5, "white", bold=True)
pie(483.2, 89.3, 71, pie_nrs, [(510, 114, "62.2"), (439, 92, "27.2"), (466.5, 41, "10.6")])
pie(1111.9, 83.3, 71.3, pie_cxcr2, [(1143, 91, "55.6"), (1080, 130.5, "7.6"), (1072.5, 75, "36.8")])

# heatmaps
HM_AX = dict(visible=False)
def heat(l, t, r, b, z, genes, gene_x_shift, top):
    n, m = len(z[0]), len(z)
    xa, ya = new_axes(l, t, r, b, [-0.5, n-0.5], [m-0.5, -0.5], HM_AX, HM_AX)
    traces.append(go.Heatmap(z=z, xaxis=xa, yaxis=ya, colorscale=RDBU, zmin=-1.5, zmax=1.5, showscale=False, hoverinfo="skip"))
    for i, g in enumerate(genes):
        cx = l + (i+0.5)*(r-l)/n + gene_x_shift
        T(cx, top, g, 20, italic=True, angle=-90, yanchor="top")

heat(68.9, 880.7, 252.6, 1114, z_mature, genes_left, -2, 1126)
heat(256.4, 880.7, 402.6, 1114, z_imm, genes_imm, 0, 1126)
heat(734, 882, 910.6, 1112.7, z_class, genes_class, -2, 1120)
heat(916, 882, 1099.7, 1112.7, z_alt, genes_alt, -4, 1120)
for (x0, y0, x1, y1, dv) in [(67.8, 878.7, 403.7, 1116.3, 254.5), (732, 881.3, 1100.9, 1113.7, 912.8)]:
    shapes.append(dict(type="rect", xref="paper", yref="paper", x0=x0/W, x1=x1/W, y0=1-y1/H, y1=1-y0/H, line=dict(color="black", width=4), layer="above"))
    shapes.append(dict(type="line", xref="paper", yref="paper", x0=dv/W, x1=dv/W, y0=1-y1/H, y1=1-y0/H, line=dict(color="black", width=4), layer="above"))

# color key
xa, ya = new_axes(566.8, 1039.3, 692.9, 1103.3, [-1.5, 1.5], [-0.5, 0.5],
                  dict(tickvals=[-1,-0.5,0,0.5,1], ticktext=["-1","-0.5","0","0.5","1"], ticklen=5, tickcolor="#444", linecolor="#666", linewidth=1,
                       tickangle=0, ticklabelstandoff=6, tickfont=dict(family=FONT, size=16, color="black", weight="bold")),
                  dict(visible=False))
traces.append(go.Heatmap(z=[key_values], x=key_values, y=[0], xaxis=xa, yaxis=ya, colorscale=RDBU, zmin=-1.5, zmax=1.5, showscale=False, zsmooth="best", hoverinfo="skip"))
T(629.4, 1028, "Color Key", 12, bold=True)
T(626, 1151.7, "Column Z-score", 17, bold=True)

# dot plots
DOT = dict(linecolor="black", linewidth=3, tickcolor="black", tickwidth=3, ticklen=6,
           tickfont=dict(family=FONT, size=19, color="black"))

def dotplot(l, t, r, b, xr, yr, ytick, nrs, cx, stats, bracket, msize=10, fsize=19, standoff=-5):
    xopt = dict(DOT, tickvals=[0,1], ticktext=["NRS","αCXCR2"], ticklabelstandoff=standoff, tickfont=dict(family=FONT, size=fsize, color="black"))
    yopt = dict(DOT, tickvals=ytick, tickfont=dict(family=FONT, size=fsize, color="black"))
    xa, ya = new_axes(l, t, r, b, xr, yr, xopt, yopt)
    dx = [p[0] for p in nrs] + [1+p[0] for p in cx]
    dy = [p[1] for p in nrs] + [p[1] for p in cx]
    traces.append(go.Scatter(x=dx, y=dy, xaxis=xa, yaxis=ya, mode="markers", marker=dict(color="black", size=msize), showlegend=False, cliponaxis=False, hoverinfo="skip"))
    for i, (m, hi, lo) in enumerate(stats):
        for (yv, hw) in [(m, 0.345), (hi, 0.18), (lo, 0.18)]:
            traces.append(go.Scatter(x=[i-hw, i+hw], y=[yv, yv], xaxis=xa, yaxis=ya, mode="lines", line=dict(color="black", width=3), showlegend=False, cliponaxis=False, hoverinfo="skip"))
        traces.append(go.Scatter(x=[i, i], y=[lo, hi], xaxis=xa, yaxis=ya, mode="lines", line=dict(color="black", width=3), showlegend=False, cliponaxis=False, hoverinfo="skip"))
    bx0, bx1, bt, bb = bracket
    y_top, y_bot = 1-bt/H, 1-bb/H
    shapes.append(dict(type="path", xref=xa, yref="paper",
                       path=f"M {bx0} {y_bot} L {bx0} {y_top} L {bx1} {y_top} L {bx1} {y_bot}",
                       line=dict(color="black", width=3), layer="above"))

dotplot(128.5, 1316, 283.6, 1468.7, [-0.649, 1.666], [0, 500], [0,100,200,300,400,500], arg1_nrs, arg1_cx, arg1_stats, (0.08, 1.0, 1314, 1323))
dotplot(362.6, 1316, 514.8, 1468.7, [-0.653, 1.707], [0, 50], [0,10,20,30,40,50], il4_nrs, il4_cx, il4_stats, (0.0, 0.95, 1314, 1323))
dotplot(587.5, 1316, 740, 1468.7, [-0.648, 1.677], [0, 5], [0,1,2,3,4,5], mrc_nrs, mrc_cx, mrc_stats, (-0.01, 0.93, 1314, 1323))
dotplot(623.4, 1570.7, 796, 1739, [-0.663, 1.692], [0, 20], [0,5,10,15,20], d_nrs, d_cx, d_stats, (0.09, 1.0, 1591.7, 1600.7), 10.5, 19, -4)

# flow plots
MINOR_X = [1.6,2.0,2.15,2.25,2.35,2.45,2.55,2.7,3.3,3.5,3.65,3.75,3.85,3.95,4.35,4.55,4.7,4.8,5.1]
MINOR_Y = [2.35,2.38,2.36,3.3,3.5,3.65,3.75,3.85,3.95,4.3,4.5,4.65,4.75,4.85]
def flow(l, z, sparse, labels):
    fx = dict(linecolor="#333", linewidth=1.5, mirror=True, tickcolor="#333", tickwidth=1, ticklen=5,
              tickvals=[1.8,2.41,3,4.05,4.91], ticktext=["-10<sup>3</sup>","0","10<sup>3</sup>","10<sup>4</sup>","10<sup>5</sup>"],
              showticklabels=labels, tickangle=0, tickfont=dict(family=FONT, size=12.5, color="#555"), minor=dict(tickvals=MINOR_X, ticklen=2.5, ticks="outside", tickcolor="#333"))
    fy = dict(linecolor="#333", linewidth=1.5, mirror=True, tickcolor="#333", tickwidth=1, ticklen=4,
              tickvals=[1.79,2.37,3,4,4.885], ticktext=["-10<sup>3</sup>","0","10<sup>3</sup>","10<sup>4</sup>","10<sup>5</sup>"],
              showticklabels=labels, tickfont=dict(family=FONT, size=12.5, color="#555"), minor=dict(tickvals=MINOR_Y, ticklen=2.5, ticks="outside", tickcolor="#333"))
    xa, ya = new_axes(l, 1570.7, l+178.4, 1750.7, [1.56, 5.25], [1.53, 5.23], fx, fy)
    traces.append(go.Heatmap(x=flow_x, y=flow_y, z=z, xaxis=xa, yaxis=ya, colorscale=JET, zmin=0, zmax=10, zsmooth="best", showscale=False, hoverinfo="skip"))
    dots(xa, ya, sparse, "#2222EE", 1.9)
    shapes.append(dict(type="rect", xref=xa, yref=ya, x0=3.14, x1=4.61, y0=3.55, y1=4.95, line=dict(color="#111", width=1.5), layer="above"))
flow(115, flow_z_nrs, flow_sparse_nrs, True)
flow(348.3, flow_z_cx, flow_sparse_cx, False)

# ---- texts ----
for (x, y, s) in [(0, 10, "a"), (0, 817, "b"), (0, 1262, "c"), (0, 1540, "d")]:
    T(x, y, s, 30, bold=True, xanchor="left")
T(324, 12.7, "NRS", 18.5); T(927.6, 11, "αCXCR2", 19)
for (x, y) in [(326.6, 384.3), (926, 382.7), (305, 790), (926, 797.3)]:
    T(x, y, "UMAP_1", 16.5)
for (x, y) in [(60, 189), (667.7, 198.3), (56.5, 585), (664.4, 607.3)]:
    T(x, y, "UMAP_2", 16.5, angle=-90)
T(327.4, 455.7, "Arg1", 15, italic=True); T(927.2, 455.7, "Arg1", 15, italic=True)
T(160, 841.7, "Mature", 19); T(160, 865, "Markers", 19)
T(334.9, 841.7, "Immature", 19); T(334.9, 865, "Markers", 19)
T(819.9, 841.7, "Classical activation", 19.5); T(820.8, 865, "Markers", 19)
T(1009, 841.7, "Alternative activation", 19.5); T(1011.7, 865, "Markers", 19)
for nm, y in zip(row_names, [907.3, 965, 1033.3, 1091]):
    T(412, y, nm, 19, xanchor="left")
    T(1112.5, y, nm, 19, xanchor="left")
T(207, 1260.5, "Arg1", 19, italic=True); T(436, 1260.5, "IL4ra", 19, italic=True); T(660, 1260.5, "MRC", 19, italic=True)
T(207.5, 1290, "<i>P</i> = 0.0012", 19); T(434.8, 1290, "<i>P</i> = 0.0109", 19); T(659, 1290, "<i>P</i> = 0.0078", 19)
T(51, 1395.7, "Relative expression", 18.5, color="#222", angle=-90)
T(717.6, 1570, "<i>P</i> = 0.0003", 22)
T(203, 1551.7, "NRS", 21); T(444.6, 1551.7, "αCXCR2", 21)
T(224.9, 1602.7, "2.8%", 18.5); T(460, 1602.7, "12.4%", 18.5)
T(66.4, 1686.7, "Arg1 (FITC)", 18.5, color="#222", angle=-90)
T(192.5, 1789, "Ly6G (APC-Cy7)", 18.5)
T(567.5, 1652.7, "Arg1+ %", 19, color="#333", angle=-90)

fig = go.Figure(data=traces)
fig.update_layout(**layout)
fig.update_layout(width=W, height=H, margin=dict(l=0, r=0, t=0, b=0, autoexpand=False), paper_bgcolor="white", plot_bgcolor="rgba(0,0,0,0)",
                  shapes=shapes, annotations=annos, font=dict(family=FONT), showlegend=False)
fig.write_html("out.html", post_script="document.body.style.margin='0';document.body.style.overflow='hidden';", config=dict(displayModeBar=False))
